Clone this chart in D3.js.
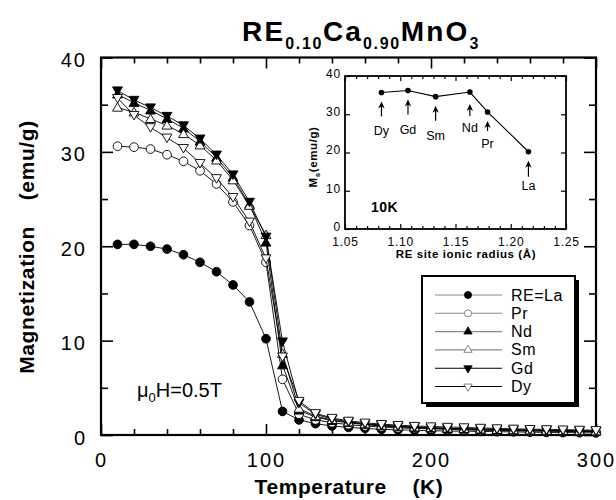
<!DOCTYPE html>
<html><head><meta charset="utf-8">
<script src="https://cdn.jsdelivr.net/npm/d3@7"></script>
<style>body{margin:0;background:#fff}text{font-family:"Liberation Sans",Arial,Helvetica,sans-serif;fill:#000}</style>
</head><body><svg id="c" width="616" height="500"></svg>
<script>
// ---------- data ----------
const temps = [10,20,30,40,50,60,70,80,90,100,110,120,130,140,150,160,170,180,190,200,210,220,230,240,250,260,270,280,290,300];
const seriesNames = ["RE=La","Pr","Nd","Sm","Gd","Dy"];
const La = [20.2,20.2,20.0,19.7,19.1,18.3,17.3,15.9,14.1,10.2,2.5,1.6,1.2,0.95,0.8,0.7,0.6,0.55,0.5,0.45,0.42,0.4,0.38,0.35,0.33,0.3,0.28,0.26,0.24,0.22];
const Pr = [30.6,30.5,30.3,29.7,29.0,28.0,26.6,24.7,22.2,18.3,5.9,2.2,1.6,1.3,1.1,0.95,0.85,0.75,0.7,0.65,0.6,0.55,0.5,0.48,0.45,0.42,0.4,0.38,0.36,0.34];
const Nd = [36.1,35.2,34.4,33.5,32.5,31.1,29.4,27.3,24.4,20.4,7.4,2.6,1.9,1.5,1.3,1.1,0.95,0.85,0.78,0.72,0.66,0.62,0.58,0.54,0.5,0.48,0.45,0.42,0.4,0.38];
const Sm = [34.7,34.2,33.5,32.8,31.9,30.7,29.1,27.0,24.3,21.2,8.6,2.8,2.0,1.6,1.35,1.15,1.0,0.9,0.82,0.75,0.7,0.65,0.6,0.56,0.52,0.5,0.47,0.44,0.42,0.4];
const Gd = [36.5,35.5,34.7,33.8,32.8,31.4,29.7,27.6,24.7,21.0,9.9,3.4,2.2,1.7,1.4,1.2,1.05,0.95,0.85,0.78,0.72,0.68,0.64,0.6,0.56,0.53,0.5,0.47,0.45,0.43];
const Dy = [35.7,33.9,32.6,31.5,30.4,28.8,27.2,25.2,22.6,18.7,8.3,3.6,2.3,1.8,1.5,1.3,1.15,1.05,0.95,0.9,0.85,0.8,0.75,0.7,0.66,0.62,0.6,0.57,0.54,0.5];
const xTicks = [0,100,200,300];
const yTicks = [0,10,20,30,40];

const insetLabels = ["Dy","Gd","Sm","Nd","Pr","La"];
const insetRadius = [1.083,1.107,1.132,1.163,1.179,1.216];
const insetMs = [35.7,36.2,34.6,35.8,30.6,20.2];
const insetXTicks = [1.05,1.10,1.15,1.20,1.25];
const insetYTicks = [0,10,20,30,40];

// ---------- layout / style ----------
const seriesValues = [La,Pr,Nd,Sm,Gd,Dy];
const markerStyle = [
  {shape:"circle", fill:"#000", rot:0, legendStroke:"#8a8a8a"},
  {shape:"circle", fill:"#fff", rot:0, legendStroke:"#8a8a8a"},
  {shape:"tri", fill:"#000", rot:0, legendStroke:"#8a8a8a"},
  {shape:"tri", fill:"#fff", rot:0, legendStroke:"#8a8a8a"},
  {shape:"tri", fill:"#000", rot:180, legendStroke:"#000"},
  {shape:"tri", fill:"#fff", rot:180, legendStroke:"#000"}
];
const arrowLayout = [ // per inset label: gap, arrow length, label offset
  {gap:9,len:15,lab:19},{gap:9,len:15,lab:19},{gap:9,len:15,lab:19},
  {gap:12,len:12,lab:16},{gap:9,len:10,lab:17},{gap:9,len:16,lab:13}
];

const svg = d3.select("#c");
const x = d3.scaleLinear().domain([0,300]).range([101,596]);
const y = d3.scaleLinear().domain([0,40]).range([435,57.5]);

function sym(st, size){
  const t = st.shape==="circle" ? d3.symbolCircle : d3.symbolTriangle;
  return d3.symbol().type(t).size(size)();
}

// ---------- main axes ----------
const g = svg.append("g");
const axStyle = sel => { sel.select(".domain").remove(); sel.selectAll("line").attr("stroke","#000").attr("stroke-width",1.6); };
const minorX = d3.range(0,301,20).filter(v=>v%100!==0);
const minorY = d3.range(0,41,5).filter(v=>v%10!==0);

g.append("g").attr("transform","translate(0,435)")
  .call(d3.axisBottom(x).tickValues(xTicks).tickSize(-11).tickPadding(18).tickFormat(d3.format("d")))
  .call(axStyle)
  .selectAll("text").attr("font-size",20).attr("letter-spacing",2).attr("font-family","'Liberation Sans',Arial,sans-serif");
g.append("g").attr("transform","translate(0,435)")
  .call(d3.axisBottom(x).tickValues(minorX).tickSize(-6).tickFormat("")).call(axStyle);
g.append("g").attr("transform","translate(0,57.5)")
  .call(d3.axisTop(x).tickValues(xTicks).tickSize(-11).tickFormat("")).call(axStyle);
g.append("g").attr("transform","translate(0,57.5)")
  .call(d3.axisTop(x).tickValues(minorX).tickSize(-6).tickFormat("")).call(axStyle);
g.append("g").attr("transform","translate(101,0)")
  .call(d3.axisLeft(y).tickValues(yTicks).tickSize(-12).tickPadding(14))
  .call(axStyle)
  .selectAll("text").attr("font-size",20).attr("letter-spacing",2).attr("dy","0.45em").attr("font-family","'Liberation Sans',Arial,sans-serif");
g.append("g").attr("transform","translate(101,0)")
  .call(d3.axisLeft(y).tickValues(minorY).tickSize(-7).tickFormat("")).call(axStyle);
g.append("g").attr("transform","translate(596,0)")
  .call(d3.axisRight(y).tickValues(yTicks).tickSize(-12).tickFormat("")).call(axStyle);
g.append("g").attr("transform","translate(596,0)")
  .call(d3.axisRight(y).tickValues(minorY).tickSize(-7).tickFormat("")).call(axStyle);
g.append("rect").attr("x",101).attr("y",57.5).attr("width",495).attr("height",377.5)
  .attr("fill","none").attr("stroke","#000").attr("stroke-width",2.2);

// ---------- series ----------
const line = d3.line().x((d,i)=>x(temps[i])).y(d=>y(d));
seriesValues.forEach((vals,si)=>{
  const st = markerStyle[si];
  const sg = svg.append("g");
  sg.append("path").datum(vals).attr("d",line).attr("fill","none").attr("stroke","#000").attr("stroke-width",0.9);
  sg.selectAll("path.m").data(vals).join("path").attr("class","m")
    .attr("d",sym(st, st.shape==="circle"?60:42))
    .attr("transform",(d,i)=>`translate(${x(temps[i])},${y(d)+(st.shape==="tri"?(st.rot?-0.8:0.8):0)}) rotate(${st.rot})`)
    .attr("fill",st.fill).attr("stroke","#000").attr("stroke-width",0.9);
});

// ---------- title & labels ----------
const title = svg.append("text").attr("x",361).attr("y",41).attr("text-anchor","middle")
  .attr("font-weight","bold").attr("font-size",28).attr("letter-spacing",2.2);
[["RE",0],["0.10",1],["Ca",0],["0.90",1],["MnO",0],["3",1]].forEach(([t,s])=>{
  title.append("tspan").text(t).attr("font-size",s?16:28).attr("dy",s?8:-8).attr("letter-spacing",s?1.6:2.2);
});
title.select("tspan").attr("dy",0);

svg.append("text").attr("x",349).attr("y",494).attr("text-anchor","middle")
  .attr("font-weight","bold").attr("font-size",21).attr("letter-spacing",0.6)
  .attr("xml:space","preserve").text("Temperature    (K)");
svg.append("text").attr("transform","translate(34,247) rotate(-90)").attr("text-anchor","middle")
  .attr("font-weight","bold").attr("font-size",21).attr("letter-spacing",0.6)
  .attr("xml:space","preserve").text("Magnetization    (emu/g)");

const mu = svg.append("text").attr("x",137).attr("y",397).attr("font-size",20);
mu.append("tspan").text("μ");
mu.append("tspan").text("0").attr("font-size",13).attr("dy",5);
mu.append("tspan").text("H=0.5T").attr("dy",-5);

// ---------- legend ----------
const lg = svg.append("g");
lg.append("rect").attr("x",426).attr("y",280).attr("width",153).attr("height",127).attr("fill","#000");
lg.append("rect").attr("x",422).attr("y",276).attr("width",153).attr("height",127).attr("fill","#fff").attr("stroke","#000").attr("stroke-width",2);
seriesNames.forEach((n,i)=>{
  const st = markerStyle[i];
  const yy = 295 + i*18.3;
  lg.append("line").attr("x1",435).attr("x2",502).attr("y1",yy).attr("y2",yy).attr("stroke",st.legendStroke).attr("stroke-width",1.1);
  lg.append("path").attr("d",sym(st, st.shape==="circle"?40:30))
    .attr("transform",`translate(468,${yy}) rotate(${st.rot})`)
    .attr("fill",st.fill).attr("stroke",st.fill==="#fff"?"#666":"#000").attr("stroke-width",0.8);
  lg.append("text").attr("x",511).attr("y",yy+5.5).attr("font-size",16).attr("letter-spacing",0.5).text(n);
});

// ---------- inset ----------
const ix = d3.scaleLinear().domain([1.05,1.25]).range([345,566]);
const iy = d3.scaleLinear().domain([0,40]).range([229,76]);
const ig = svg.append("g");
ig.append("rect").attr("x",345).attr("y",76).attr("width",221).attr("height",153).attr("fill","#fff");
const iStyle = sel => { sel.select(".domain").remove(); sel.selectAll("line").attr("stroke","#000").attr("stroke-width",1.2); };
const iMinorX = d3.range(105,126,1).map(v=>v/100).filter(v=>Math.round(v*100)%5!==0);
ig.append("g").attr("transform","translate(0,229)")
  .call(d3.axisBottom(ix).tickValues(insetXTicks).tickSize(-5).tickPadding(8).tickFormat(d3.format(".2f")))
  .call(iStyle).selectAll("text").attr("font-size",12).attr("letter-spacing",0.8).attr("font-family","'Liberation Sans',Arial,sans-serif");
ig.append("g").attr("transform","translate(0,229)")
  .call(d3.axisBottom(ix).tickValues(iMinorX).tickSize(-3).tickFormat("")).call(iStyle);
ig.append("g").attr("transform","translate(0,76)")
  .call(d3.axisTop(ix).tickValues(insetXTicks).tickSize(-5).tickFormat("")).call(iStyle);
ig.append("g").attr("transform","translate(0,76)")
  .call(d3.axisTop(ix).tickValues(iMinorX).tickSize(-3).tickFormat("")).call(iStyle);
ig.append("g").attr("transform","translate(345,0)")
  .call(d3.axisLeft(iy).tickValues(insetYTicks).tickSize(-5).tickPadding(4))
  .call(iStyle).selectAll("text").attr("font-size",12).attr("letter-spacing",0.8).attr("dy","0.12em").attr("font-family","'Liberation Sans',Arial,sans-serif");
ig.append("g").attr("transform","translate(566,0)")
  .call(d3.axisRight(iy).tickValues(insetYTicks).tickSize(-5).tickFormat("")).call(iStyle);
ig.append("rect").attr("x",345).attr("y",76).attr("width",221).attr("height",153)
  .attr("fill","none").attr("stroke","#000").attr("stroke-width",1.8);

const iline = d3.line().x((d,i)=>ix(insetRadius[i])).y(d=>iy(d));
ig.append("path").datum(insetMs).attr("d",iline).attr("fill","none").attr("stroke","#000").attr("stroke-width",1.1);
ig.selectAll("circle.p").data(insetMs).join("circle").attr("class","p")
  .attr("cx",(d,i)=>ix(insetRadius[i])).attr("cy",d=>iy(d)).attr("r",2.8).attr("fill","#000");

insetLabels.forEach((lab,i)=>{
  const px = ix(insetRadius[i]), py = iy(insetMs[i]);
  const L = arrowLayout[i];
  const tip = py + L.gap, tail = tip + L.len;
  ig.append("line").attr("x1",px).attr("x2",px).attr("y1",tip+3).attr("y2",tail).attr("stroke","#000").attr("stroke-width",1.2);
  ig.append("path").attr("d",`M${px},${tip} L${px-3.2},${tip+7} L${px},${tip+5} L${px+3.2},${tip+7} Z`).attr("fill","#000");
  ig.append("text").attr("x",px).attr("y",tail+L.lab).attr("text-anchor","middle").attr("font-size",12.5).text(lab);
});

ig.append("text").attr("x",371).attr("y",212).attr("font-weight","bold").attr("font-size",14).attr("letter-spacing",0.5).text("10K");
ig.append("text").attr("x",466).attr("y",258).attr("text-anchor","middle").attr("font-weight","bold").attr("font-size",11.5).attr("letter-spacing",0.6).text("RE site ionic radius (Å)");
const iyl = ig.append("text").attr("transform","translate(317,157) rotate(-90)").attr("text-anchor","middle")
  .attr("font-weight","bold").attr("font-size",11.5).attr("letter-spacing",0.6);
iyl.append("tspan").text("M");
iyl.append("tspan").text("s").attr("font-size",8).attr("dy",3);
iyl.append("tspan").text("(emu/g)").attr("dy",-3);
</script></body></html>
